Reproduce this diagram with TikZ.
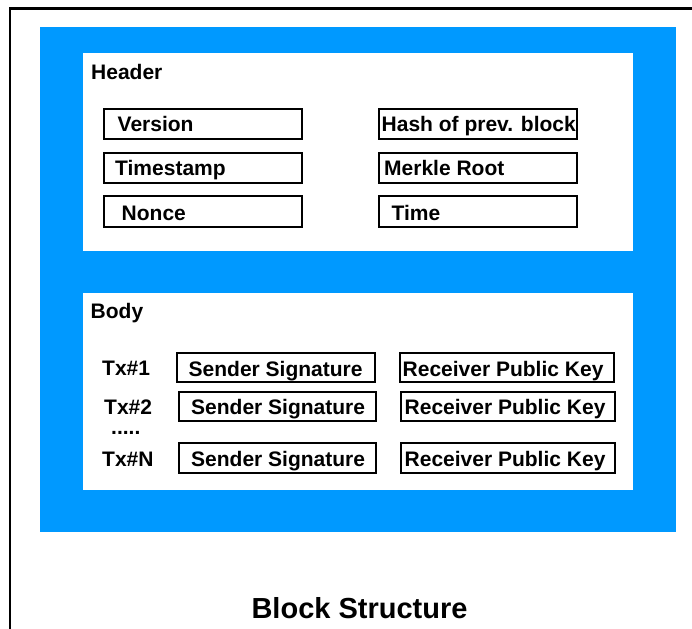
\documentclass[tikz,border=0pt]{standalone}
\usepackage{fontspec}
\setmainfont{Liberation Sans}
\definecolor{blockblue}{RGB}{0,153,255}
\tikzset{
  field/.style={draw=black, line width=2pt, fill=white, inner sep=0pt,
    minimum height=30pt},
  txt/.style={font=\fontsize{21}{25}\selectfont\bfseries, inner sep=0pt,
    anchor=base west},
  titletxt/.style={font=\fontsize{29}{34}\selectfont\bfseries, inner sep=0pt,
    anchor=base},
}
\begin{document}
\begin{tikzpicture}[x=1pt,y=-1pt]
\useasboundingbox (0,0) rectangle (692,628);
% outer frame
\draw[line width=2.5pt] (10,630) -- (10,8.7) -- (694,8.7);
% block background and its two sections
\fill[blockblue] (40,26.7) rectangle (676,531.7);
\fill[white] (82.7,53.3) rectangle (632.7,251);
\fill[white] (82.7,292.5) rectangle (632.7,490);

% header
\node[txt] (header) at (91,79.3) {Header};
\node[field, minimum width=198pt] (ver)  at (203,124.5) {};
\node[field, minimum width=198pt] (ts)   at (203,168)   {};
\node[field, minimum width=198pt] (non)  at (203,211.5) {};
\node[field, minimum width=198pt] (hash) at (478,124.5) {};
\node[field, minimum width=198pt] (mr)   at (478,168)   {};
\node[field, minimum width=198pt] (tim)  at (478,211.5) {};
\node[txt] (tver)  at (117.5,131.7) {Version};
\node[txt] (tts)   at (115,176)     {Timestamp};
\node[txt] (tnon)  at (121.5,220)   {Nonce};
\node[txt] (thash) at (381.5,131.7) {Hash of prev. block};
\node[txt] (tmr)   at (384,176)     {Merkle Root};
\node[txt] (ttim)  at (391.5,220)   {Time};

% body
\node[txt] (body) at (90.5,318) {Body};
\node[txt] (tx1) at (102,375) {Tx\#1};
\node[txt] (tx2) at (104,414) {Tx\#2};
\node[txt] (dots) at (111,434.5) {.....};
\node[txt] (txn) at (102,466) {Tx\#N};

\node[field, minimum width=198pt, minimum height=29pt] (s1) at (276,367.5) {};
\node[field, minimum width=197pt, minimum height=29pt] (s2) at (277.5,406.5) {};
\node[field, minimum width=197pt, minimum height=30pt] (sn) at (277.5,458) {};
\node[field, minimum width=214pt, minimum height=29pt] (r1) at (507,367.5) {};
\node[field, minimum width=214pt, minimum height=29pt] (r2) at (508,406.5) {};
\node[field, minimum width=214pt, minimum height=30pt] (rn) at (508,458) {};
\node[txt] (ts1) at (188.5,376) {Sender Signature};
\node[txt] (ts2) at (191,414.5) {Sender Signature};
\node[txt] (tsn) at (191,466.5) {Sender Signature};
\node[txt] (tr1) at (402.5,376) {Receiver Public Key};
\node[txt] (tr2) at (404.5,414.5) {Receiver Public Key};
\node[txt] (trn) at (404.5,466.5) {Receiver Public Key};

% caption
\node[titletxt] (caption) at (359.5,618.3) {Block Structure};
\end{tikzpicture}
\end{document}
